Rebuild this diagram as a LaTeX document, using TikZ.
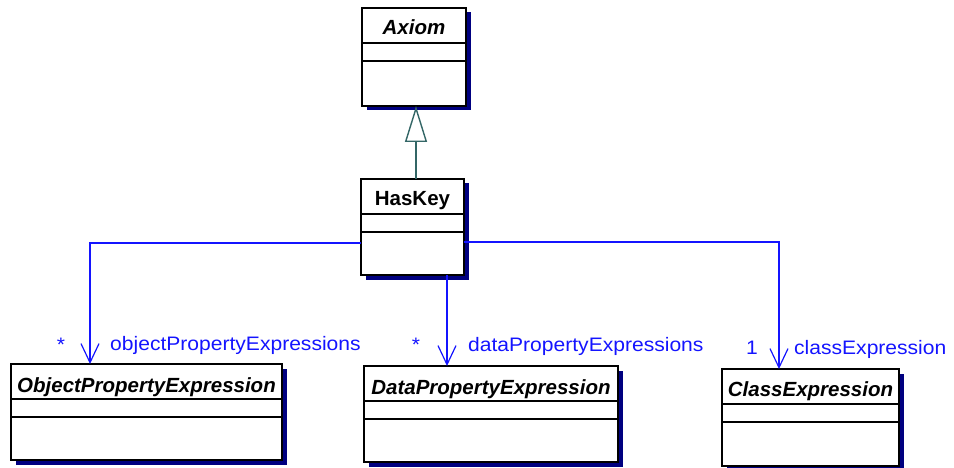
\documentclass[tikz,border=0pt]{standalone}
\usepackage{fontspec}
\setmainfont{Liberation Sans}
\newfontfamily\rolefont[FakeStretch=1.08]{Liberation Sans}
\usetikzlibrary{arrows.meta,shadows,positioning}
\definecolor{umlblue}{RGB}{20,20,255}
\definecolor{umlteal}{RGB}{51,102,102}
\definecolor{umlshadow}{RGB}{0,0,128}
\tikzset{
  classbox/.style={draw=black, line width=1.4pt, fill=white, anchor=north west,
    inner sep=0pt, outer sep=0pt,
    drop shadow={shadow xshift=4.5pt, shadow yshift=-4.5pt, fill=umlshadow, opacity=1}},
  classname/.style={anchor=base, inner sep=0pt, font=\fontsize{20.5}{24}\selectfont\bfseries\itshape},
  boxline/.style={draw=black, line width=1.2pt},
  gen/.style={umlteal, line width=1.4pt, -{Triangle[fill=white, length=36pt, width=22pt]}},
  assoc/.style={umlblue, line width=1.2pt, -{Straight Barb[length=19pt, width=18pt]}},
  role/.style={umlblue, anchor=base west, inner sep=0pt, font=\rolefont\fontsize{19.5}{23}\selectfont},
  mult/.style={umlblue, anchor=base, inner sep=0pt, font=\rolefont\fontsize{19.5}{23}\selectfont}
}
\begin{document}
\begin{tikzpicture}[x=1pt, y=-1pt]
\useasboundingbox (0,0) rectangle (954,468);
% classes
\node[classbox, minimum width=104, minimum height=98] (axiom) at (362,8) {};
\node[classbox, minimum width=103, minimum height=96] (haskey) at (361,179) {};
\node[classbox, minimum width=271, minimum height=96] (ope) at (11,364) {};
\node[classbox, minimum width=254, minimum height=96] (dpe) at (364,366) {};
\node[classbox, minimum width=177, minimum height=97] (ce) at (722,369) {};
\foreach \c in {axiom,haskey,ope,dpe,ce} {
  \draw[boxline] ([yshift=-35pt]\c.north west) -- ([yshift=-35pt]\c.north east);
  \draw[boxline] ([yshift=-53pt]\c.north west) -- ([yshift=-53pt]\c.north east);
}
\node[classname] (axiomname) at ([yshift=-27pt]axiom.north) {Axiom};
\node[classname, font=\fontsize{20.5}{24}\selectfont\bfseries] (haskeyname) at ([yshift=-27pt]haskey.north) {HasKey};
\node[classname] (opename) at ([yshift=-28pt]ope.north) {ObjectPropertyExpression};
\node[classname] (dpename) at ([yshift=-28pt]dpe.north) {DataPropertyExpression};
\node[classname] (cename) at ([yshift=-27pt]ce.north) {ClassExpression};
% generalisation
\draw[gen] ([xshift=3.5pt]haskey.north) -- ([xshift=3.5pt]haskey.north |- axiom.south);
% associations
\draw[assoc] ([yshift=32pt]haskey.south west) -| ([xshift=79pt]ope.north west);
\draw[assoc] ([xshift=34.5pt]haskey.south) -- ([xshift=34.5pt]haskey.south |- dpe.north);
\draw[assoc] ([yshift=33pt]haskey.south east) -| ([xshift=57pt]ce.north west);
% ends
\node[mult] (opemult) at (61,351) {*};
\node[role] (operole) at (110,350) {objectPropertyExpressions};
\node[mult] (dpemult) at (416,351) {*};
\node[role] (dperole) at (468,351) {dataPropertyExpressions};
\node[mult] (cemult) at (752,354) {1};
\node[role] (cerole) at (794,354) {classExpression};
\end{tikzpicture}
\end{document}
